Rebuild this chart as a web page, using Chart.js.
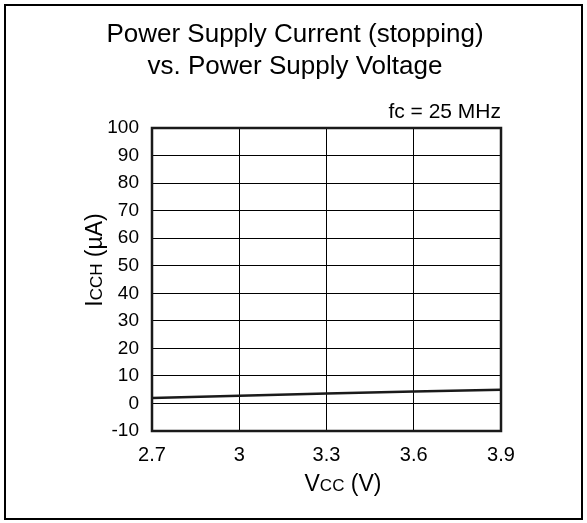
<!DOCTYPE html>
<html>
<head>
<meta charset="utf-8">
<script src="https://cdn.jsdelivr.net/npm/chart.js@4"></script>
<style>
  html, body { margin: 0; padding: 0; background: #fff; }
  #wrap { width: 587px; height: 523px; }
</style>
</head>
<body>
<div id="wrap"><canvas id="iccChart" width="587" height="523"></canvas></div>
<script>
    // values
    const vccValues = [2.7, 3.0, 3.3, 3.6, 3.9];
    const iccValues = [2.0, 2.8, 3.6, 4.3, 5.0];
    const xTicks = [2.7, 3.0, 3.3, 3.6, 3.9];
    const yTicks = [-10, 0, 10, 20, 30, 40, 50, 60, 70, 80, 90, 100];
    const titleLines = ['Power Supply Current (stopping)', 'vs. Power Supply Voltage'];
    const noteText = 'fc = 25 MHz';

    const FONT = 'Arial, "Liberation Sans", Helvetica, sans-serif';
    const ink = '#1a1a1a';

    // draw a string where some parts are smaller (small caps look)
    function drawMixed(ctx, parts, x, y, align) {
        let total = 0;
        parts.forEach(p => { ctx.font = p[1] + 'px ' + FONT; total += ctx.measureText(p[0]).width; });
        let cx = align === 'center' ? x - total / 2 : x;
        ctx.textAlign = 'left';
        parts.forEach(p => {
            ctx.font = p[1] + 'px ' + FONT;
            ctx.fillText(p[0], cx, y);
            cx += ctx.measureText(p[0]).width;
        });
    }

    const decorations = {
        id: 'decorations',
        afterDraw(chart) {
            const ctx = chart.ctx;
            const a = chart.chartArea;
            ctx.save();
            // outer frame
            ctx.strokeStyle = '#000';
            ctx.lineWidth = 2;
            ctx.strokeRect(5, 5, 577, 514);
            // plot frame
            ctx.lineWidth = 2.5;
            ctx.strokeStyle = ink;
            ctx.strokeRect(a.left, a.top, a.right - a.left, a.bottom - a.top);

            ctx.fillStyle = '#000';
            ctx.textBaseline = 'alphabetic';
            // title
            ctx.font = '26px ' + FONT;
            ctx.textAlign = 'center';
            ctx.fillText(titleLines[0], 295, 42);
            ctx.fillText(titleLines[1], 295, 74);
            // condition note
            ctx.font = '21px ' + FONT;
            ctx.textAlign = 'right';
            ctx.fillText(noteText, a.right, 118);
            // x axis title
            drawMixed(ctx, [['V', 23], ['CC', 17], [' (V)', 23]], 343, 491, 'center');
            // y axis title
            ctx.translate(102, 260);
            ctx.rotate(-Math.PI / 2);
            drawMixed(ctx, [['I', 23], ['CCH', 17], [' (\u00b5A)', 23]], 0, 0, 'center');
            ctx.restore();
        }
    };

    const ctx = document.getElementById('iccChart').getContext('2d');
    const iccChart = new Chart(ctx, {
        type: 'line',
        data: {
            labels: vccValues,
            datasets: [{
                label: 'ICCH',
                data: vccValues.map((v, i) => ({ x: v, y: iccValues[i] })),
                borderColor: ink,
                borderWidth: 2.5,
                pointRadius: 0,
                tension: 0,
                fill: false
            }]
        },
        options: {
            responsive: false,
            animation: false,
            devicePixelRatio: 1,
            layout: { padding: { top: 128, right: 86, left: 0, bottom: 0 } },
            plugins: {
                legend: { display: false },
                title: { display: false },
                tooltip: { enabled: false }
            },
            scales: {
                x: {
                    type: 'linear',
                    min: 2.7,
                    max: 3.9,
                    afterBuildTicks: s => { s.ticks = xTicks.map(v => ({ value: v })); },
                    afterFit: s => { s.height = 92; },
                    grid: { color: '#000', lineWidth: 1, drawTicks: false },
                    border: { display: false },
                    ticks: {
                        color: '#000',
                        padding: 12,
                        maxRotation: 0,
                        font: { family: FONT, size: 20 },
                        callback: v => String(Number(v.toFixed(1)))
                    }
                },
                y: {
                    min: -10,
                    max: 100,
                    afterBuildTicks: s => { s.ticks = yTicks.map(v => ({ value: v })); },
                    afterFit: s => { s.width = 152; },
                    grid: { color: '#000', lineWidth: 1, drawTicks: false },
                    border: { display: false },
                    ticks: {
                        color: '#000',
                        padding: 13,
                        font: { family: FONT, size: 19 }
                    }
                }
            }
        },
        plugins: [decorations]
    });
</script>
</body>
</html>
